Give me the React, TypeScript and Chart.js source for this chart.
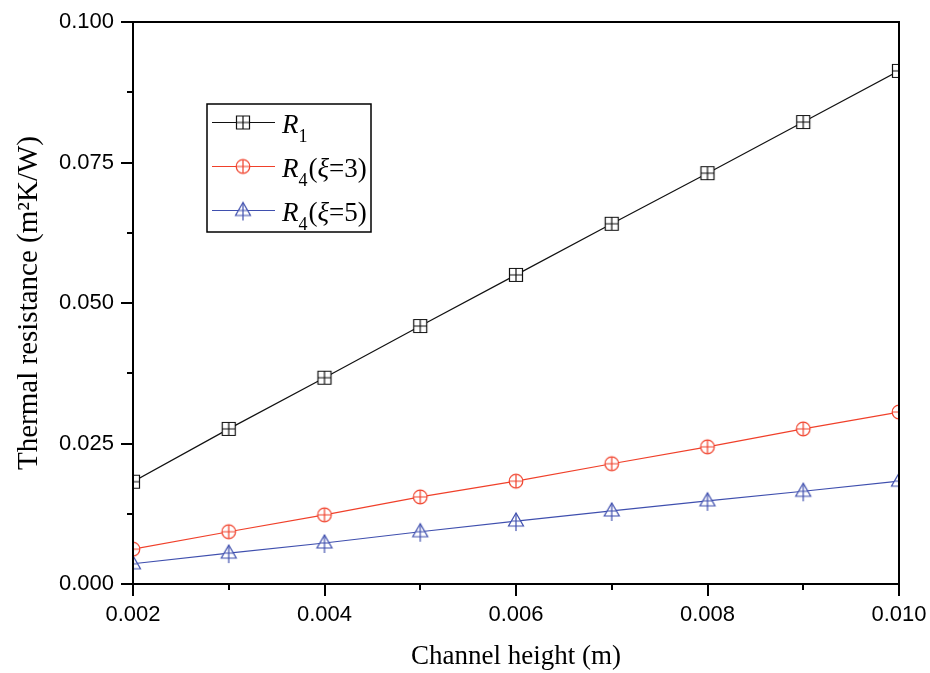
import React, { useEffect, useRef } from 'react';
import { Chart, registerables } from 'chart.js';

Chart.register(...registerables);

// ---- data ----
const channelHeight = [0.002, 0.003, 0.004, 0.005, 0.006, 0.007, 0.008, 0.009, 0.010];
const r1 = [0.0182, 0.0276, 0.0367, 0.0459, 0.0550, 0.0641, 0.0731, 0.0822, 0.0913];
const r4xi3 = [0.0062, 0.0093, 0.0123, 0.0155, 0.0183, 0.0214, 0.0244, 0.0276, 0.0306];
const r4xi5 = [0.0036, 0.0055, 0.0073, 0.0093, 0.0112, 0.0130, 0.0148, 0.0165, 0.0183];

const xTicks = [0.002, 0.004, 0.006, 0.008, 0.010];
const xMinorTicks = [0.003, 0.005, 0.007, 0.009];
const yTicks = [0, 0.025, 0.05, 0.075, 0.1];
const yMinorTicks = [0.0125, 0.0375, 0.0625, 0.0875];

const xTitle = 'Channel height (m)';
const yTitle = 'Thermal resistance (m\u00B2K/W)';

const BLACK = '#111111';
const RED = '#f0402a';
const BLUE = '#3f4fae';

function makeMarker(kind: string, color: string): HTMLCanvasElement {
  const c = document.createElement('canvas');
  c.width = 20;
  c.height = 24;
  const g = c.getContext('2d')!;
  const cx = 10, cy = 12;
  g.strokeStyle = color;
  g.fillStyle = '#ffffff';
  g.lineWidth = 1.2;
  if (kind === 'square') {
    const h = 6.5;
    g.beginPath();
    g.rect(cx - h, cy - h, 2 * h, 2 * h);
    g.fill();
    g.stroke();
    g.beginPath();
    g.moveTo(cx, cy - h); g.lineTo(cx, cy + h);
    g.moveTo(cx - h, cy); g.lineTo(cx + h, cy);
    g.stroke();
  } else if (kind === 'circle') {
    const r = 6.8;
    g.beginPath();
    g.arc(cx, cy, r, 0, Math.PI * 2);
    g.fill();
    g.stroke();
    g.beginPath();
    g.moveTo(cx, cy - r); g.lineTo(cx, cy + r);
    g.moveTo(cx - r, cy); g.lineTo(cx + r, cy);
    g.stroke();
  } else {
    g.beginPath();
    g.moveTo(cx, cy - 8);
    g.lineTo(cx - 7.5, cy + 5);
    g.lineTo(cx + 7.5, cy + 5);
    g.closePath();
    g.fill();
    g.stroke();
    g.beginPath();
    g.moveTo(cx, cy - 8); g.lineTo(cx, cy + 10);
    g.moveTo(cx - 4.5, cy); g.lineTo(cx + 4.5, cy);
    g.stroke();
  }
  return c;
}

export default function App() {
  const ref = useRef<HTMLCanvasElement | null>(null);

  useEffect(() => {
    document.body.style.margin = '0';
    const canvas = ref.current;
    if (!canvas) return;

    const mSquare = makeMarker('square', BLACK);
    const mCircle = makeMarker('circle', RED);
    const mTri = makeMarker('triangle', BLUE);

    const toPts = (ys: number[]) => channelHeight.map((x, i) => ({ x, y: ys[i] }));

    const framePlugin = {
      id: 'frameTicks',
      afterDatasetsDraw(chart: any) {
        const { ctx, chartArea, scales } = chart;
        const { left, right, top, bottom } = chartArea;
        const xs = scales.x, ys = scales.y;
        ctx.save();
        ctx.strokeStyle = '#000';
        ctx.lineWidth = 2;
        ctx.lineCap = 'butt';
        ctx.strokeRect(left, top, right - left, bottom - top);
        ctx.beginPath();
        xTicks.forEach((v) => {
          const px = Math.round(xs.getPixelForValue(v));
          ctx.moveTo(px, bottom); ctx.lineTo(px, bottom + 12);
        });
        xMinorTicks.forEach((v) => {
          const px = Math.round(xs.getPixelForValue(v));
          ctx.moveTo(px, bottom); ctx.lineTo(px, bottom + 6);
        });
        yTicks.forEach((v) => {
          const py = Math.round(ys.getPixelForValue(v));
          ctx.moveTo(left - 12, py); ctx.lineTo(left, py);
        });
        yMinorTicks.forEach((v) => {
          const py = Math.round(ys.getPixelForValue(v));
          ctx.moveTo(left - 6, py); ctx.lineTo(left, py);
        });
        ctx.stroke();

        // legend
        const bx = 207, by = 104, bw = 164, bh = 128;
        ctx.lineWidth = 1.5;
        ctx.fillStyle = '#fff';
        ctx.fillRect(bx, by, bw, bh);
        ctx.strokeStyle = '#000';
        ctx.strokeRect(bx, by, bw, bh);
        const rows = [
          { y: 122, color: BLACK, marker: mSquare, sub: '1', rest: null as null | string },
          { y: 166, color: RED, marker: mCircle, sub: '4', rest: '3' },
          { y: 210, color: BLUE, marker: mTri, sub: '4', rest: '5' },
        ];
        rows.forEach((r) => {
          ctx.strokeStyle = r.color;
          ctx.lineWidth = 1.2;
          ctx.beginPath();
          ctx.moveTo(212, r.y + 0.5); ctx.lineTo(275, r.y + 0.5);
          ctx.stroke();
          ctx.drawImage(r.marker, 243 - r.marker.width / 2, r.y + 0.5 - r.marker.height / 2);
          ctx.fillStyle = '#000';
          ctx.textBaseline = 'alphabetic';
          ctx.textAlign = 'left';
          const base = r.y + 10.5;
          let tx = 282;
          ctx.font = 'italic 27px "Liberation Serif", "Times New Roman", serif';
          ctx.fillText('R', tx, base);
          tx += ctx.measureText('R').width;
          ctx.font = '18px "Liberation Serif", "Times New Roman", serif';
          ctx.fillText(r.sub, tx, base + 9);
          tx += ctx.measureText(r.sub).width + 1;
          if (r.rest) {
            ctx.font = '27px "Liberation Serif", "Times New Roman", serif';
            ctx.fillText('(', tx, base);
            tx += ctx.measureText('(').width;
            ctx.font = 'italic 27px "Liberation Serif", "Times New Roman", serif';
            ctx.fillText('\u03BE', tx, base);
            tx += ctx.measureText('\u03BE').width;
            ctx.font = '27px "Liberation Serif", "Times New Roman", serif';
            const t = '=' + r.rest + ')';
            ctx.fillText(t, tx, base);
          }
        });
        ctx.restore();
      },
    };

    const chart = new Chart(canvas, {
      type: 'line',
      data: {
        datasets: [
          {
            label: 'R1',
            data: toPts(r1),
            borderColor: BLACK,
            borderWidth: 1.2,
            pointStyle: mSquare as any,
            pointRadius: 7,
            clip: 0,
          },
          {
            label: 'R4(xi=3)',
            data: toPts(r4xi3),
            borderColor: RED,
            borderWidth: 1.2,
            pointStyle: mCircle as any,
            pointRadius: 7,
            clip: 0,
          },
          {
            label: 'R4(xi=5)',
            data: toPts(r4xi5),
            borderColor: BLUE,
            borderWidth: 1.2,
            pointStyle: mTri as any,
            pointRadius: 7,
            clip: 0,
          },
        ],
      },
      options: {
        animation: false,
        responsive: false,
        devicePixelRatio: 1,
        layout: { padding: { top: 22, right: 31, left: 0, bottom: 0 } },
        plugins: { legend: { display: false }, tooltip: { enabled: false } },
        scales: {
          x: {
            type: 'linear',
            min: 0.002,
            max: 0.01,
            afterBuildTicks: (s: any) => { s.ticks = xTicks.map((v) => ({ value: v })); },
            afterFit: (s: any) => {
              s.height = 89;
              s.paddingLeft = 0; s.paddingRight = 0; s.paddingTop = 0; s.paddingBottom = 0;
            },
            grid: { display: false, drawTicks: false },
            border: { display: false },
            ticks: {
              color: '#000',
              padding: 18,
              maxRotation: 0,
              autoSkip: false,
              font: { family: '"Liberation Sans", Arial, sans-serif', size: 22 },
              callback: (v: any) => Number(v).toFixed(3),
            },
            title: {
              display: true,
              text: xTitle,
              color: '#000',
              padding: { top: 0, bottom: 0 },
              font: { family: '"Liberation Serif", "Times New Roman", serif', size: 27 },
            },
          },
          y: {
            type: 'linear',
            min: 0,
            max: 0.1,
            afterBuildTicks: (s: any) => { s.ticks = yTicks.map((v) => ({ value: v })); },
            afterFit: (s: any) => {
              s.width = 133;
              s.paddingLeft = 0; s.paddingRight = 0; s.paddingTop = 0; s.paddingBottom = 0;
            },
            grid: { display: false, drawTicks: false },
            border: { display: false },
            ticks: {
              color: '#000',
              padding: 19,
              autoSkip: false,
              font: { family: '"Liberation Sans", Arial, sans-serif', size: 22 },
              callback: (v: any) => Number(v).toFixed(3),
            },
            title: {
              display: true,
              text: yTitle,
              color: '#000',
              padding: { top: 12, bottom: 0 },
              font: { family: '"Liberation Serif", "Times New Roman", serif', size: 29 },
            },
          },
        },
      },
      plugins: [framePlugin],
    } as any);

    return () => chart.destroy();
  }, []);

  return (
    <div style={{ width: 930, height: 673, background: '#fff' }}>
      <canvas ref={ref} width={930} height={673} style={{ display: 'block' }} />
    </div>
  );
}
